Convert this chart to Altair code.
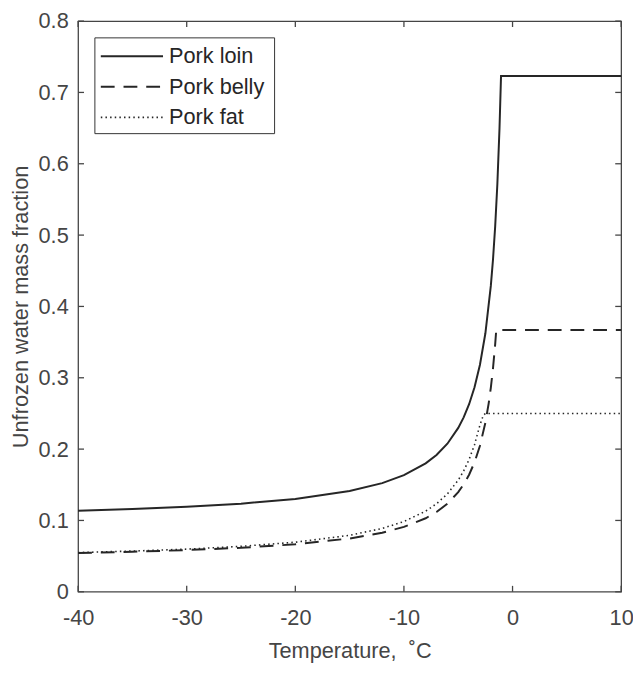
import altair as alt
import pandas as pd

series_names = ["Pork loin", "Pork belly", "Pork fat"]

temp_loin = [-40, -35, -30, -25, -20, -15, -12, -10, -8, -7, -6, -5, -4.5, -4,
             -3.5, -3, -2.5, -2, -1.8, -1.6, -1.4, -1.2, -1.06, 10]
loin = [0.1136, 0.1160, 0.1191, 0.1235, 0.1302, 0.1412, 0.1523, 0.1634, 0.1800,
        0.1918, 0.2076, 0.2297, 0.2445, 0.2629, 0.2866, 0.3182, 0.3624, 0.4288,
        0.4657, 0.5118, 0.5710, 0.6500, 0.723, 0.723]

temp_belly = [-40, -35, -30, -25, -20, -15, -12, -10, -8, -7, -6, -5, -4.5, -4,
              -3.5, -3, -2.5, -2.2, -2, -1.8, -1.6, -1.5, 10]
belly = [0.0544, 0.0561, 0.0585, 0.0617, 0.0666, 0.0747, 0.0828, 0.0910, 0.1031,
         0.1118, 0.1235, 0.1397, 0.1505, 0.1641, 0.1815, 0.2047, 0.2372, 0.2638,
         0.2860, 0.3130, 0.3469, 0.367, 0.367]

temp_fat = [-40, -35, -30, -25, -20, -15, -12, -10, -8, -7, -6, -5, -4.5, -4,
            -3.5, -3, -2.7, -2.5, 10]
fat = [0.0550, 0.0571, 0.0598, 0.0637, 0.0695, 0.0792, 0.0888, 0.0985, 0.1130,
       0.1234, 0.1372, 0.1565, 0.1694, 0.1855, 0.2062, 0.2338, 0.2470, 0.250, 0.250]

x_ticks = [-40, -30, -20, -10, 0, 10]
y_ticks = [0, 0.1, 0.2, 0.3, 0.4, 0.5, 0.6, 0.7, 0.8]

W, H = 550, 578
AX = "#454545"
LINE = "#262626"
FONT = "Liberation Sans"
X_T = "Temperature,\u00a0 \u02daC"
Y_T = "Unfrozen water mass fraction"

styles = {
    "Pork loin": dict(strokeWidth=2.0),
    "Pork belly": dict(strokeWidth=2.0, strokeDash=[14, 9]),
    "Pork fat": dict(strokeWidth=1.6, strokeDash=[1.5, 3.2]),
}

xs = alt.Scale(domain=[-40, 10], nice=False, zero=False)
ys = alt.Scale(domain=[0, 0.8], nice=False, zero=False)

x_axis = alt.Axis(values=x_ticks, title=X_T, labelFontSize=22,
                  titleFontSize=22, labelColor=AX, titleColor=AX, labelFont=FONT,
                  titleFont=FONT, titleFontWeight="normal", domain=False, ticks=False,
                  grid=False, labelPadding=16, labelFlush=False, labelOverlap=False,
                  labelExpr="toString(datum.value)",
                  titleY=50, titleBaseline="top")
y_axis = alt.Axis(values=y_ticks, format="~g", title=Y_T,
                  labelFontSize=22, titleFontSize=22, labelColor=AX, titleColor=AX,
                  labelFont=FONT, titleFont=FONT, titleFontWeight="normal",
                  domain=False, ticks=False, grid=False, labelPadding=10,
                  labelOverlap=False, titleX=-46, titleAngle=270,
                  titleBaseline="bottom")

layers = []
for name, temps, vals in zip(series_names, [temp_loin, temp_belly, temp_fat],
                             [loin, belly, fat]):
    df = pd.DataFrame({"T": temps, "w": vals, "i": list(range(len(temps)))})
    layers.append(
        alt.Chart(df).mark_line(color=LINE, **styles[name]).encode(
            x=alt.X("T:Q", scale=xs, axis=x_axis, title=X_T),
            y=alt.Y("w:Q", scale=ys, axis=y_axis, title=Y_T),
            order="i:Q",
        )
    )

xt = pd.DataFrame({"v": x_ticks})
yt = pd.DataFrame({"v": y_ticks})
TL = 6
layers += [
    alt.Chart(xt).mark_rule(color=AX, strokeWidth=1.3).encode(
        x=alt.X("v:Q", scale=xs, axis=x_axis, title=X_T), y=alt.value(H), y2=alt.value(H - TL)),
    alt.Chart(xt).mark_rule(color=AX, strokeWidth=1.3).encode(
        x=alt.X("v:Q", scale=xs, axis=x_axis, title=X_T), y=alt.value(0), y2=alt.value(TL)),
    alt.Chart(yt).mark_rule(color=AX, strokeWidth=1.3).encode(
        y=alt.Y("v:Q", scale=ys, axis=y_axis, title=Y_T), x=alt.value(0), x2=alt.value(TL)),
    alt.Chart(yt).mark_rule(color=AX, strokeWidth=1.3).encode(
        y=alt.Y("v:Q", scale=ys, axis=y_axis, title=Y_T), x=alt.value(W), x2=alt.value(W - TL)),
]

# legend
layers.append(
    alt.Chart(pd.DataFrame({"a": [0]})).mark_rect(fill="white", stroke="#333333",
                                                   strokeWidth=1).encode(
        x=alt.value(17), x2=alt.value(199), y=alt.value(17), y2=alt.value(114))
)
for k, name in enumerate(series_names):
    ly = 35.5 + 31 * k
    ldf = pd.DataFrame({"name": [name]})
    layers.append(
        alt.Chart(ldf).mark_rule(color=LINE, **styles[name]).encode(
            x=alt.value(23), x2=alt.value(86), y=alt.value(ly))
    )
    layers.append(
        alt.Chart(ldf).mark_text(align="left", baseline="middle", fontSize=22,
                                 font=FONT, color=LINE).encode(
            x=alt.value(92), y=alt.value(ly), text="name:N")
    )

chart = alt.layer(*layers).properties(
    width=W, height=H,
    padding={"left": 71, "top": 9, "right": 12, "bottom": 78},
    autosize=alt.AutoSizeParams(type="none"),
).configure_view(stroke=AX, strokeWidth=1.3)

chart.save("out.html", embed_options={"renderer": "svg", "actions": False})
